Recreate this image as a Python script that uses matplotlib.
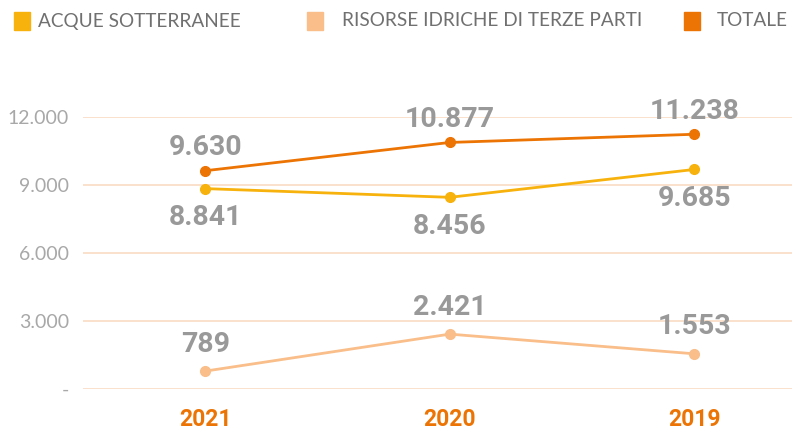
import matplotlib.pyplot as plt
from matplotlib.patches import Rectangle

years = ['2021', '2020', '2019']
acque = [8841, 8456, 9685]
risorse = [789, 2421, 1553]
totale = [9630, 10877, 11238]

series_names = ['ACQUE SOTTERRANEE', 'RISORSE IDRICHE DI TERZE PARTI', 'TOTALE']
yticks = [0, 3000, 6000, 9000, 12000]
ytick_labels = ['-', '3.000', '6.000', '9.000', '12.000']

C_ACQUE = '#F7B20D'
C_RIS = '#F9BE8A'
C_TOT = '#EC7404'
GRID = '#F8DCC4'
GREY = '#999999'

plt.rcParams['font.family'] = ['Lato', 'DejaVu Sans']
BOLD = ['Roboto', 'DejaVu Sans']


def fmt(v):
    return f'{v:,}'.replace(',', '.')


fig = plt.figure(figsize=(7.92, 4.34), dpi=100)
ax = fig.add_axes([83 / 792, 45 / 434, 1 - 83 / 792, (389 - 117) / 434])
x = range(len(years))

ax.set_ylim(0, 12000)
ax.set_xlim(-0.5, 2.4)
for t in yticks:
    ax.axhline(t, color=GRID, lw=1.2, zorder=0)

ax.plot(x, risorse, color=C_RIS, lw=2, marker='o', ms=7, zorder=3)
ax.plot(x, acque, color=C_ACQUE, lw=2, marker='o', ms=7, zorder=3)
ax.plot(x, totale, color=C_TOT, lw=2, marker='o', ms=7, zorder=3)

lbl = dict(ha='center', va='center', fontsize=20.5, fontweight='bold', family=BOLD,
           color=GREY, clip_on=False)
for i in x:
    ax.annotate(fmt(totale[i]), (i, totale[i]), xytext=(0, 23), textcoords='offset pixels', **lbl)
    ax.annotate(fmt(acque[i]), (i, acque[i]), xytext=(0, -29), textcoords='offset pixels', **lbl)
    ax.annotate(fmt(risorse[i]), (i, risorse[i]), xytext=(0, 27), textcoords='offset pixels', **lbl)

ax.set_yticks(yticks)
ax.set_yticklabels(ytick_labels, fontsize=14, color='#A8A8A8')
ax.set_xticks(list(x))
ax.set_xticklabels(years, fontsize=16.5, fontweight='bold', family=BOLD, color=C_TOT)
ax.tick_params(axis='both', length=0)
ax.tick_params(axis='y', pad=10)
ax.tick_params(axis='x', pad=14)
for s in ax.spines.values():
    s.set_visible(False)

# legend drawn by hand across the top
leg = [(14, 38, C_ACQUE), (307, 342, C_RIS), (684, 717, C_TOT)]
for (sx, tx, c), name in zip(leg, series_names):
    fig.add_artist(Rectangle((sx / 792, 1 - 30 / 434), 16 / 792, 18 / 434,
                             transform=fig.transFigure, color=c))
    fig.text(tx / 792, 1 - 21 / 434, name, fontsize=13.7, color='#707070',
             va='center', ha='left')

fig.savefig('out.png', dpi=100)
